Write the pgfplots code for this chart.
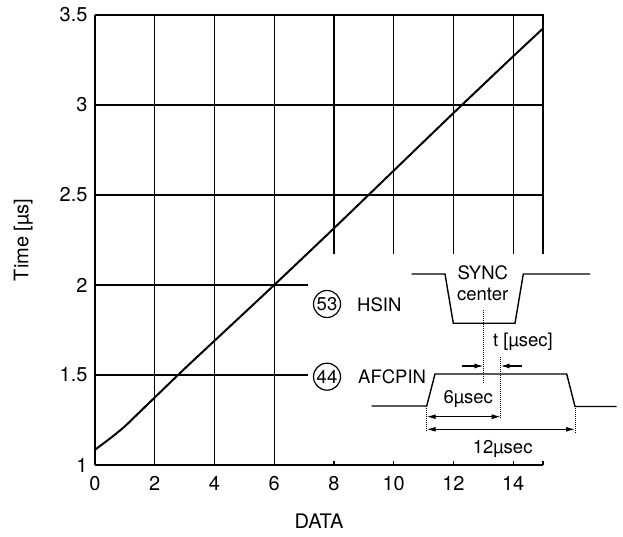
\documentclass[border=0pt]{standalone}
\usepackage{fontspec}
\setmainfont{TeX Gyre Heros}
\usepackage{pgfplots}
\pgfplotsset{compat=1.18}
\usetikzlibrary{arrows.meta}

\begin{document}
\begin{tikzpicture}
\begin{axis}[
    name=ax,
    scale only axis,
    width=448pt, height=450pt,
    xmin=0, xmax=15, ymin=1, ymax=3.5,
    axis x line*=bottom, axis y line*=left,
    axis line style={line width=1.6pt, -},
    xtick={0,2,4,6,8,10,12,14,15},
    xticklabels={0,2,4,6,8,10,12,14,},
    ytick={1,1.5,2,2.5,3,3.5},
    yticklabels={1,1.5,2,2.5,3,3.5},
    tick align=inside, major tick length=4pt,
    tick style={line width=1.2pt, black},
    ytick style={draw=none},
    ticklabel style={font=\fontsize{20}{23}\selectfont},
    xticklabel style={yshift=-8pt},
    yticklabel style={xshift=-4pt},
    /pgf/number format/assume math mode=true,
    xlabel={DATA}, ylabel={Time [µs]},
    label style={font=\fontsize{20}{23}\selectfont},
    xlabel style={at={(axis description cs:0.5,-0.124)}, anchor=center},
    ylabel style={at={(axis description cs:-0.16,0.5)}, anchor=center},
    clip=false,
]
% partial grid, as in the original
\draw[line width=1.2pt] (axis cs:2,1) -- (axis cs:2,3.5);
\draw[line width=1.2pt] (axis cs:4,1) -- (axis cs:4,3.5);
\draw[line width=1.2pt] (axis cs:6,1) -- (axis cs:6,3.5);
\draw[line width=1.2pt] (axis cs:8,2.17) -- (axis cs:8,3.5);
\draw[line width=1.2pt] (axis cs:10,2.17) -- (axis cs:10,3.5);
\draw[line width=1.2pt] (axis cs:12,2.17) -- (axis cs:12,3.5);
\draw[line width=1.2pt] (axis cs:14,2.17) -- (axis cs:14,3.5);
\draw[line width=1.2pt] (axis cs:0,3) -- (axis cs:15,3);
\draw[line width=1.2pt] (axis cs:0,2.5) -- (axis cs:15,2.5);
\draw[line width=1.2pt] (axis cs:0,2) -- (axis cs:7.13,2);
\draw[line width=1.2pt] (axis cs:0,1.5) -- (axis cs:7.13,1.5);
% top and (short) right border
\draw[line width=1.6pt] (axis cs:0,3.5) -- (axis cs:15,3.5) -- (axis cs:15,2.17);

\addplot[black, line width=2pt, smooth, tension=0.5] coordinates {
    (0,1.085) (0.3,1.122) (0.6,1.16) (1,1.215) (1.5,1.295) (2,1.375)
    (3,1.535) (4,1.69) (6,2.0) (8,2.315) (10,2.635)
    (12,2.955) (14,3.27) (15,3.425)
};
\end{axis}

% timing diagram inset (coordinates in picture pixels, y down)
\begin{scope}[shift={(ax.south west)}, xshift=-95pt, yshift=465pt, x=1pt, y=-1pt,
              font=\fontsize{18.5}{21}\selectfont]
\draw[line width=1.4pt] (411.7,274) -- (445,274) -- (453.3,323.3) -- (515,323.3)
    -- (523.3,274) -- (590,274);
\draw[line width=1.4pt] (371.7,406) -- (426.7,406) -- (435,374) -- (566.7,374)
    -- (575,406.5) -- (616.7,406.5);
\node[inner sep=0] at (482.7,272.7) {SYNC};
\node[inner sep=0] at (482.7,294) {center};

\draw[densely dotted, line width=1pt] (483.3,310) -- (483.3,383);
\draw[densely dotted, line width=1pt] (500.7,356.7) -- (500.7,418.3);
\draw[densely dotted, line width=1pt] (426.7,406) -- (426.7,432);
\draw[densely dotted, line width=1pt] (575,406.5) -- (575,433);

\draw[-{Latex[length=9pt,width=5pt]}, line width=1.1pt] (461.7,366) -- (483.3,366);
\draw[-{Latex[length=9pt,width=5pt]}, line width=1.1pt] (521.7,366) -- (500.7,366);
\draw[{Latex[length=9pt,width=5pt]}-{Latex[length=9pt,width=5pt]}, line width=1.1pt]
    (426.7,416.7) -- (500.7,416.7);
\draw[{Latex[length=9pt,width=5pt]}-{Latex[length=9pt,width=5pt]}, line width=1.1pt]
    (426.7,429.3) -- (575,429.3);

\node[inner sep=0, anchor=west] at (493,341.5) {t [µsec]};
\node[inner sep=0] at (468.3,399.3) {6µsec};
\node[inner sep=0] at (502.7,449.3) {12µsec};

\node[draw, circle, line width=1.2pt, inner sep=0, minimum size=27pt] at (327,304) {53};
\node[inner sep=0, anchor=west] at (357,305) {HSIN};
\node[draw, circle, line width=1.2pt, inner sep=0, minimum size=27pt] at (327,376.7) {44};
\node[inner sep=0, anchor=west] at (358,376.7) {AFCPIN};
\end{scope}

\pgfresetboundingbox
\path[shift={(ax.south west)}, xshift=-95pt, yshift=465pt, x=1pt, y=-1pt]
    (0,0) rectangle (623,537);
\end{tikzpicture}
\end{document}
